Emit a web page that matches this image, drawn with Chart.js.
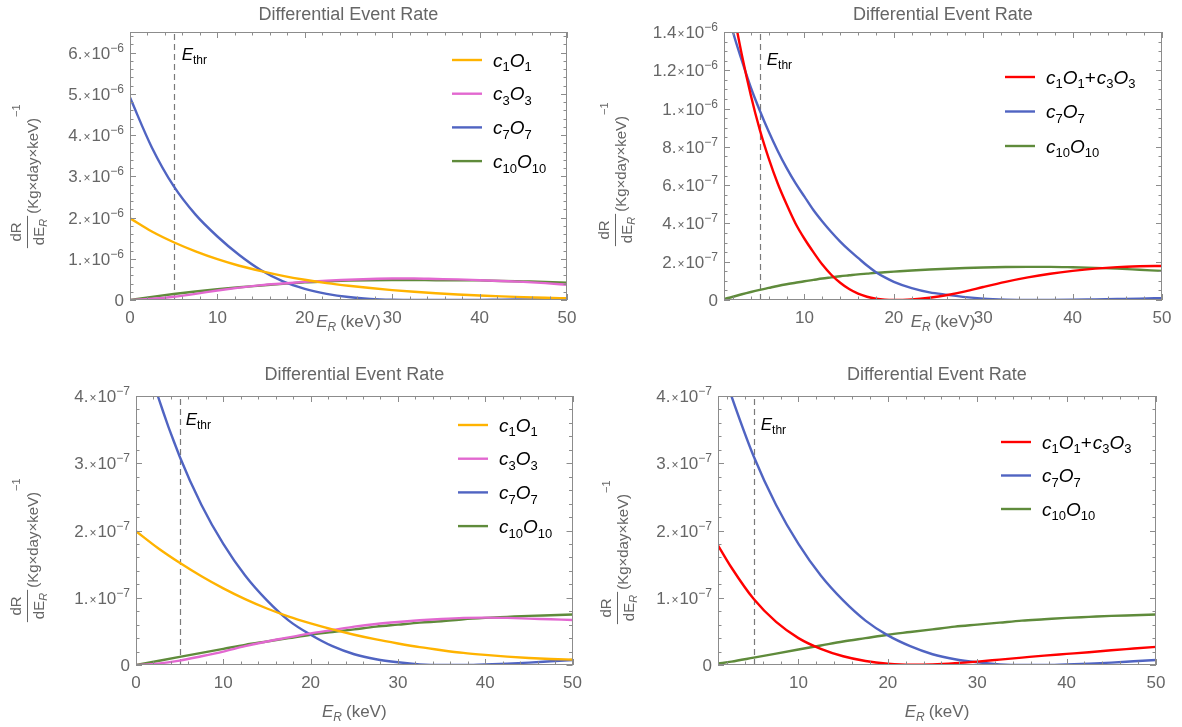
<!DOCTYPE html>
<html>
<head>
<meta charset="utf-8">
<script src="https://cdn.jsdelivr.net/npm/chart.js@4"></script>
<style>
  body { margin: 0; background: #fff; }
  #wrap { position: relative; width: 1182px; height: 727px; overflow: hidden; }
  canvas { position: absolute; }
</style>
</head>
<body>
<div id="wrap">
  <canvas id="p1" width="590" height="360" style="left:0;top:0"></canvas>
  <canvas id="p2" width="592" height="360" style="left:590px;top:0"></canvas>
  <canvas id="p3" width="590" height="367" style="left:0;top:360px"></canvas>
  <canvas id="p4" width="592" height="367" style="left:590px;top:360px"></canvas>
</div>
<script>
// all rates in units of 1e-7 (Kg x day x keV)^-1
const TITLE = "Differential Event Rate";
const E_THR = 5;

// top left
const tlE = [0, 2.5, 5, 7.5, 10, 12.5, 15, 17.5, 20, 22.5, 25, 27.5, 30, 32.5, 35, 37.5, 40, 42.5, 45, 47.5, 50];
const tlC1 = [19.8, 16.6, 14.0, 11.8, 9.9, 8.3, 7.0, 5.85, 4.9, 4.1, 3.45, 2.9, 2.4, 2.0, 1.65, 1.35, 1.1, 0.88, 0.7, 0.55, 0.42];
const tlC3 = [0, 0.3, 0.8, 1.5, 2.3, 3.0, 3.6, 4.0, 4.4, 4.7, 4.9, 5.1, 5.2, 5.2, 5.1, 5.0, 4.8, 4.6, 4.4, 4.1, 3.7];
const tlC7 = [49.1, 37.0, 27.6, 20.7, 15.4, 10.9, 7.2, 4.5, 2.7, 1.5, 0.72, 0.28, 0.07, 0, 0, 0, 0.03, 0.08, 0.12, 0.16, 0.2];
const tlC10 = [0, 0.75, 1.45, 2.05, 2.6, 3.1, 3.5, 3.9, 4.3, 4.5, 4.7, 4.8, 4.85, 4.85, 4.8, 4.8, 4.75, 4.6, 4.5, 4.4, 4.2];

// top right
const trE = [1, 2, 3, 4, 5, 6, 7, 8, 9, 10, 11, 12, 13, 14, 15, 16, 17, 18, 19, 20, 22, 24, 26, 28, 30, 32.5, 35, 37.5, 40, 42.5, 45, 47.5, 50];
const trC13 = [17.8, 15.2, 12.8, 10.7, 8.9, 7.4, 6.1, 5.0, 4.0, 3.2, 2.5, 1.85, 1.32, 0.9, 0.57, 0.33, 0.17, 0.07, 0.015, 0, 0.03, 0.12, 0.26, 0.45, 0.68, 0.95, 1.18, 1.37, 1.52, 1.64, 1.72, 1.76, 1.78];
const trC7 = [15.8, 14.0, 12.5, 11.1, 9.9, 8.8, 7.8, 6.9, 6.1, 5.4, 4.7, 4.1, 3.55, 3.05, 2.6, 2.2, 1.8, 1.45, 1.18, 0.95, 0.62, 0.4, 0.27, 0.15, 0.07, 0.02, 0, 0, 0.01, 0.03, 0.05, 0.07, 0.1];
const trC10 = [0.05, 0.17, 0.3, 0.42, 0.53, 0.63, 0.73, 0.82, 0.9, 0.98, 1.05, 1.12, 1.18, 1.24, 1.29, 1.34, 1.38, 1.42, 1.45, 1.48, 1.54, 1.59, 1.63, 1.67, 1.7, 1.72, 1.73, 1.73, 1.71, 1.68, 1.64, 1.58, 1.52];

// bottom left
const blE = [0, 2.5, 5, 7.5, 10, 12.5, 15, 17.5, 20, 22.5, 25, 27.5, 30, 32.5, 35, 37.5, 40, 42.5, 45, 47.5, 50];
const blC1 = [1.99, 1.74, 1.52, 1.32, 1.14, 0.98, 0.84, 0.72, 0.62, 0.53, 0.45, 0.38, 0.32, 0.265, 0.22, 0.18, 0.15, 0.125, 0.105, 0.09, 0.08];
const blC3 = [0, 0.02, 0.065, 0.13, 0.2, 0.28, 0.35, 0.41, 0.47, 0.52, 0.57, 0.61, 0.64, 0.665, 0.685, 0.7, 0.705, 0.7, 0.69, 0.68, 0.67];
const blC7 = [5.1, 4.0, 3.1, 2.38, 1.8, 1.33, 0.96, 0.66, 0.45, 0.28, 0.16, 0.085, 0.04, 0.01, 0, 0, 0.01, 0.02, 0.035, 0.055, 0.075];
const blC10 = [0, 0.06, 0.12, 0.18, 0.24, 0.3, 0.35, 0.4, 0.45, 0.49, 0.53, 0.57, 0.6, 0.63, 0.65, 0.68, 0.7, 0.715, 0.73, 0.74, 0.75];

// bottom right
const brE = [1, 2.5, 5, 7.5, 10, 12.5, 15, 17.5, 20, 22.5, 25, 27.5, 30, 32.5, 35, 37.5, 40, 42.5, 45, 47.5, 50];
const brC13 = [1.78, 1.45, 0.98, 0.64, 0.4, 0.24, 0.13, 0.06, 0.02, 0.003, 0.008, 0.025, 0.05, 0.08, 0.11, 0.14, 0.165, 0.19, 0.22, 0.245, 0.27];
const brC7 = [4.6, 4.0, 3.1, 2.38, 1.8, 1.33, 0.96, 0.66, 0.44, 0.28, 0.16, 0.085, 0.04, 0.01, 0, 0, 0.01, 0.02, 0.035, 0.055, 0.075];
const brC10 = [0.02, 0.05, 0.11, 0.17, 0.23, 0.29, 0.35, 0.4, 0.45, 0.49, 0.53, 0.57, 0.6, 0.63, 0.66, 0.68, 0.7, 0.715, 0.73, 0.74, 0.75];

// ticks
const xTicks0 = [0, 10, 20, 30, 40, 50];
const xTicks1 = [10, 20, 30, 40, 50];
const tlYTicks = [0, 10, 20, 30, 40, 50, 60];
const trYTicks = [0, 2, 4, 6, 8, 10, 12, 14];
const bYTicks = [0, 1, 2, 3, 4];

const COL = { c1: "#ffb300", c3: "#e268d0", c7: "#5064c2", c10: "#5f8b3b", c13: "#ff0000" };
const FAM = '"Liberation Sans", Arial, sans-serif';
const GRAY = "#666";

function f(size, italic) { return (italic ? "italic " : "") + size + "px " + FAM; }

// draw a list of text pieces left to right, returns width
function rich(ctx, parts, x, y, measureOnly) {
  let w = 0;
  for (const p of parts) {
    ctx.font = p.font;
    if (!measureOnly) ctx.fillText(p.t, x + w + (p.gap || 0), y + (p.dy || 0));
    w += ctx.measureText(p.t).width + (p.gap || 0) + (p.after || 0);
  }
  return w;
}

function nameParts(name, size) {
  return name.match(/[a-zA-Z]|\d+|\+/g).map(tok => {
    if (/\d/.test(tok)) return { t: tok, font: f(Math.round(size * 0.7)), dy: size * 0.26 };
    if (tok === "+") return { t: "+", font: f(size), after: 1 };
    return { t: tok, font: f(size, true) };
  });
}

function yLabelParts(v) {
  if (v === 0) return [{ t: "0", font: f(17) }];
  const big = v >= 10;
  const m = big ? v / 10 : v;
  const ms = Number.isInteger(m) ? m + "." : String(m);
  return [
    { t: ms, font: f(17) },
    { t: "\u00d7", font: f(12), gap: 1, after: 1 },
    { t: "10", font: f(17) },
    { t: "\u2212" + (big ? 6 : 7), font: f(12), dy: -7 }
  ];
}

function makeDeco(cfg) {
  return {
    id: "deco",
    beforeDatasetsDraw(chart) {
      const { ctx, chartArea: a, scales: { x } } = chart;
      const px = Math.round(x.getPixelForValue(E_THR)) + 0.5;
      ctx.save();
      ctx.strokeStyle = "#7a7a7a";
      ctx.lineWidth = 1.2;
      ctx.setLineDash([6, 4]);
      ctx.beginPath();
      ctx.moveTo(px, a.bottom);
      ctx.lineTo(px, a.top);
      ctx.stroke();
      ctx.restore();
    },
    afterDraw(chart) {
      const { ctx, chartArea: a, scales: { x, y } } = chart;
      ctx.save();
      // frame
      ctx.strokeStyle = "#8c8c8c";
      ctx.lineWidth = 1;
      ctx.strokeRect(Math.round(a.left) + 0.5, Math.round(a.top) + 0.5, Math.round(a.right - a.left) - 1, Math.round(a.bottom - a.top) - 1);
      // ticks
      ctx.beginPath();
      const xs = [];
      for (let k = Math.ceil(x.min / cfg.xMinor); k * cfg.xMinor <= x.max + 1e-9; k++) xs.push(k * cfg.xMinor);
      xs.forEach(v => {
        const len = cfg.xMajor.includes(v) ? 6 : 3.5;
        const p = Math.round(x.getPixelForValue(v)) + 0.5;
        ctx.moveTo(p, a.bottom); ctx.lineTo(p, a.bottom - len);
        ctx.moveTo(p, a.top); ctx.lineTo(p, a.top + len);
      });
      for (let k = 0; k * cfg.yMinor <= y.max + 1e-9; k++) {
        const v = k * cfg.yMinor;
        const major = cfg.yMajor.some(t => Math.abs(t - v) < 1e-9);
        const len = major ? 6 : 3.5;
        const p = Math.round(y.getPixelForValue(v)) + 0.5;
        ctx.moveTo(a.left, p); ctx.lineTo(a.left + len, p);
        ctx.moveTo(a.right, p); ctx.lineTo(a.right - len, p);
      }
      ctx.stroke();

      // y tick labels
      ctx.fillStyle = GRAY;
      ctx.textBaseline = "alphabetic";
      y.ticks.forEach(t => {
        const parts = yLabelParts(t.value);
        const w = rich(ctx, parts, 0, 0, true);
        rich(ctx, parts, a.left - 6 - w, y.getPixelForValue(t.value) + 6);
      });

      // title
      ctx.font = f(18);
      ctx.textAlign = "center";
      ctx.fillText(TITLE, (a.left + a.right) / 2, 20);
      ctx.textAlign = "left";

      // x axis title
      const xt = [
        { t: "E", font: f(17, true) },
        { t: "R", font: f(12, true), dy: 4, after: 4 },
        { t: "(keV)", font: f(17) }
      ];
      const xw = rich(ctx, xt, 0, 0, true);
      rich(ctx, xt, (a.left + a.right) / 2 - xw / 2, cfg.xTitleY);

      // y axis title (rotated)
      ctx.save();
      ctx.translate(cfg.yTitle[0], cfg.yTitle[1]);
      ctx.rotate(-Math.PI / 2);
      const num = [{ t: "dR", font: f(15) }];
      const den = [{ t: "dE", font: f(15) }, { t: "R", font: f(11, true), dy: 3 }];
      const nw = rich(ctx, num, 0, 0, true);
      const dw = rich(ctx, den, 0, 0, true);
      const half = Math.max(nw, dw) / 2 + 3;
      rich(ctx, num, -nw / 2, -6);
      rich(ctx, den, -dw / 2, 17);
      ctx.strokeStyle = GRAY;
      ctx.lineWidth = 1;
      ctx.beginPath();
      ctx.moveTo(-half, 0.5); ctx.lineTo(half, 0.5);
      ctx.stroke();
      const uw = rich(ctx, [{ t: "(Kg\u00d7day\u00d7keV)", font: f(15) }], half + 2, 11);
      rich(ctx, [{ t: "\u22121", font: f(11) }], half + 3 + uw, -7);
      ctx.restore();

      // threshold label
      ctx.fillStyle = "#000";
      const ex = x.getPixelForValue(E_THR) + cfg.thr[0];
      rich(ctx, [{ t: "E", font: f(17, true) }, { t: "thr", font: f(12), dy: 4 }], ex, a.top + cfg.thr[1]);

      // legend
      chart.data.datasets.forEach((ds, i) => {
        const ly = cfg.legend.y + i * cfg.legend.dy;
        ctx.strokeStyle = ds.borderColor;
        ctx.lineWidth = 2.4;
        ctx.beginPath();
        ctx.moveTo(cfg.legend.x, ly); ctx.lineTo(cfg.legend.x + 30, ly);
        ctx.stroke();
        ctx.fillStyle = "#000";
        rich(ctx, nameParts(ds.label, 19), cfg.legend.x + 41, ly + 6.5);
      });
      ctx.restore();
    }
  };
}

function makeChart(id, cfg) {
  const canvas = document.getElementById(id);
  const W = canvas.width, H = canvas.height;
  return new Chart(canvas, {
    type: "line",
    data: {
      datasets: cfg.series.map(s => ({
        label: s.name,
        data: cfg.e.map((e, i) => ({ x: e, y: s.y[i] })),
        borderColor: s.color,
        borderWidth: 2.4,
        pointRadius: 0,
        cubicInterpolationMode: "monotone",
        fill: false
      }))
    },
    options: {
      responsive: false,
      animation: false,
      devicePixelRatio: 1,
      layout: { padding: { left: 0, top: cfg.area.top, right: W - cfg.area.right, bottom: 0 } },
      plugins: { legend: { display: false }, title: { display: false }, tooltip: { enabled: false } },
      scales: {
        x: {
          type: "linear", min: cfg.xMin, max: 50,
          grid: { display: false, drawTicks: false },
          border: { display: false },
          ticks: { color: GRAY, font: { family: FAM, size: 17 }, padding: 8, maxRotation: 0, autoSkip: false },
          afterBuildTicks: s => { s.ticks = cfg.xMajor.map(v => ({ value: v })); },
          afterFit: s => { s.height = H - cfg.area.bottom; }
        },
        y: {
          type: "linear", min: 0, max: cfg.yMax,
          grid: { display: false, drawTicks: false },
          border: { display: false },
          ticks: { display: false },
          afterBuildTicks: s => { s.ticks = cfg.yMajor.map(v => ({ value: v })); },
          afterFit: s => { s.width = cfg.area.left; }
        }
      }
    },
    plugins: [makeDeco(cfg)]
  });
}

makeChart("p1", {
  e: tlE,
  series: [
    { name: "c1O1", y: tlC1, color: COL.c1 },
    { name: "c3O3", y: tlC3, color: COL.c3 },
    { name: "c7O7", y: tlC7, color: COL.c7 },
    { name: "c10O10", y: tlC10, color: COL.c10 }
  ],
  area: { left: 130, right: 567, top: 32, bottom: 300 },
  xMin: 0, xMajor: xTicks0, xMinor: 2,
  yMax: 65, yMajor: tlYTicks, yMinor: 2,
  xTitleY: 327, yTitle: [27, 232], thr: [8, 28],
  legend: { x: 452, y: 60, dy: 33.7 }
});

makeChart("p2", {
  e: trE,
  series: [
    { name: "c1O1+c3O3", y: trC13, color: COL.c13 },
    { name: "c7O7", y: trC7, color: COL.c7 },
    { name: "c10O10", y: trC10, color: COL.c10 }
  ],
  area: { left: 134, right: 572, top: 32, bottom: 300 },
  xMin: 1, xMajor: xTicks1, xMinor: 2,
  yMax: 14, yMajor: trYTicks, yMinor: 0.5,
  xTitleY: 327, yTitle: [25, 230], thr: [7, 33],
  legend: { x: 415, y: 77, dy: 34.5 }
});

makeChart("p3", {
  e: blE,
  series: [
    { name: "c1O1", y: blC1, color: COL.c1 },
    { name: "c3O3", y: blC3, color: COL.c3 },
    { name: "c7O7", y: blC7, color: COL.c7 },
    { name: "c10O10", y: blC10, color: COL.c10 }
  ],
  area: { left: 136, right: 573, top: 36, bottom: 305 },
  xMin: 0, xMajor: xTicks0, xMinor: 2,
  yMax: 4, yMajor: bYTicks, yMinor: 0.2,
  xTitleY: 357, yTitle: [27, 246], thr: [6, 29],
  legend: { x: 458, y: 65, dy: 33.7 }
});

makeChart("p4", {
  e: brE,
  series: [
    { name: "c1O1+c3O3", y: brC13, color: COL.c13 },
    { name: "c7O7", y: brC7, color: COL.c7 },
    { name: "c10O10", y: brC10, color: COL.c10 }
  ],
  area: { left: 128, right: 566, top: 36, bottom: 305 },
  xMin: 1, xMajor: xTicks1, xMinor: 2,
  yMax: 4, yMajor: bYTicks, yMinor: 0.2,
  xTitleY: 357, yTitle: [27, 248], thr: [7, 34],
  legend: { x: 411, y: 82, dy: 33.5 }
});
</script>
</body>
</html>
